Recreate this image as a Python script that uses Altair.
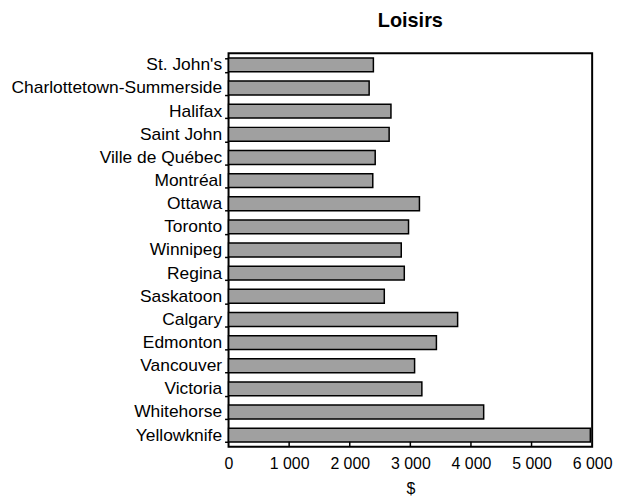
import altair as alt
import pandas as pd

cities = ["St. John's", "Charlottetown-Summerside", "Halifax", "Saint John",
          "Ville de Québec", "Montréal", "Ottawa", "Toronto", "Winnipeg",
          "Regina", "Saskatoon", "Calgary", "Edmonton", "Vancouver",
          "Victoria", "Whitehorse", "Yellowknife"]
values = [2390, 2320, 2680, 2650, 2420, 2380, 3150, 2970, 2850,
          2900, 2570, 3780, 3430, 3070, 3190, 4210, 5970]
tick_values = [1000, 2000, 3000, 4000, 5000]

df = pd.DataFrame({"ville": cities, "montant": values})
ticks_df = pd.DataFrame({"t": tick_values})

W, H = 366, 396
FONT = "Liberation Sans"

xscale = alt.Scale(domain=[0, 6000], nice=False)

bars = alt.Chart(df).mark_bar(
    color="#a0a0a0", stroke="black", strokeWidth=1.5
).encode(
    x=alt.X("montant:Q", scale=xscale,
            axis=alt.Axis(values=[0, 1000, 2000, 3000, 4000, 5000, 6000],
                          labelExpr="replace(format(datum.value, ','), ',', ' ')",
                          title="$", grid=False, ticks=False, domain=False,
                          labelFlush=False, labelOverlap=False,
                          labelFontSize=16, labelColor="black", labelPadding=9,
                          titleFontSize=16, titleFontWeight="normal",
                          titleColor="black", titlePadding=9, labelFont=FONT,
                          titleFont=FONT)),
    y=alt.Y("ville:N", sort=cities,
            scale=alt.Scale(paddingInner=0.4, paddingOuter=0.2),
            axis=alt.Axis(title=None, domain=False, tickBand="extent",
                          tickSize=4, tickColor="black", tickWidth=1.5,
                          labelFontSize=17.5, labelColor="black",
                          labelLimit=400,
                          labelPadding=3, labelFont=FONT)),
)

tick_marks = alt.Chart(ticks_df).mark_rule(color="black", strokeWidth=1.5).encode(
    x=alt.X("t:Q", scale=xscale),
    y=alt.value(H - 5),
    y2=alt.value(H),
)

chart = alt.layer(bars, tick_marks).properties(
    width=W, height=H,
    background="white",
    padding={"left": 2, "top": 2, "right": 2, "bottom": 2},
    title=alt.TitleParams("Loisirs", fontSize=20, fontWeight="bold",
                          font=FONT, color="black", offset=13),
).configure_view(
    stroke="black", strokeWidth=2
)

chart.save("out.html", embed_options={"renderer": "svg", "actions": False})
